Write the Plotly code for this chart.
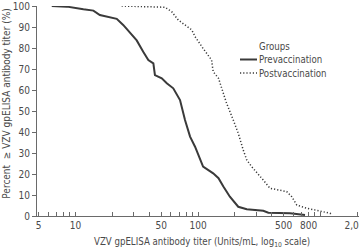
import plotly.graph_objects as go

# Prevaccination (solid)
pre_titer = [6.4, 8.5, 11.6, 14.0, 15.8, 19.2, 21.7, 24.5, 27.9, 31.6, 35.7, 39.3, 43.2, 44.5,
             50.6, 55.6, 62.8, 71.3, 78.3, 86.1, 94.6, 110, 133, 147, 161, 182, 213, 250,
             341, 375, 564, 703, 747]
pre_pct = [100, 99.7, 98.4, 97.8, 95.7, 94.6, 93.9, 91.0, 87.0, 83.6, 78.2, 74.3, 72.7, 67.1,
           65.6, 63.2, 60.8, 55.2, 45.7, 37.8, 33.0, 23.5, 20.3, 18.0, 14.0, 9.2, 4.4, 3.2,
           2.5, 1.6, 1.3, 0.8, 0.5]

# Postvaccination (dotted)
post_titer = [23.8, 43.2, 53.8, 61, 69, 89, 94.6, 110, 129, 133, 147, 161, 171, 194, 213, 234,
              250, 274, 311, 341, 387, 468, 530, 582, 640, 771, 990, 1197, 1240]
post_pct = [100, 99.7, 99.4, 97.3, 93.3, 88.6, 85.4, 79.8, 74.3, 68.7, 65.6, 58.4, 53.7, 45.7,
            39.4, 31.4, 26.7, 23.5, 19.5, 17.1, 13.2, 12.4, 11.6, 9.2, 5.2, 3.7, 2.5, 1.3, 0.2]

x_tickvals = [5, 6, 7, 8, 9, 10, 20, 30, 40, 50, 60, 70, 80, 90, 100, 200, 300, 400, 500,
              600, 700, 800, 900, 1000, 2000]
x_labels = {5: "5", 10: "10", 50: "50", 100: "100", 500: "500", 800: "800", 2000: "2,000"}
y_tickvals = [0, 10, 20, 30, 40, 50, 60, 70, 80, 90, 100]

FONT = "DejaVu Sans Condensed, Liberation Sans Narrow, sans-serif"
TXT = "#4a4a4a"
AX = "#6a6a6a"
FS = 9.6
DOT = "1.2px,2px"

fig = go.Figure()
fig.add_trace(go.Scatter(x=pre_titer, y=pre_pct, mode="lines",
                         line=dict(color="#3a3a3a", width=2), showlegend=False))
fig.add_trace(go.Scatter(x=post_titer, y=post_pct, mode="lines",
                         line=dict(color="#3a3a3a", width=1.5, dash=DOT), showlegend=False))

fig.update_layout(
    width=359, height=250,
    margin=dict(l=37, r=0, t=6, b=34),
    paper_bgcolor="white", plot_bgcolor="white",
    font=dict(family=FONT, size=FS, color=TXT),
    xaxis=dict(type="log", range=[0.6857, 3.314], tickvals=x_tickvals,
               ticktext=[x_labels.get(v, "") for v in x_tickvals],
               ticks="inside", ticklen=4, tickcolor=AX, showline=True, linecolor=AX,
               linewidth=1, showgrid=False, zeroline=False, automargin=False,
               ticklabeloverflow="allow",
               tickfont=dict(size=10, color=TXT)),
    yaxis=dict(range=[0, 100], tickvals=y_tickvals, ticks="outside", ticklen=4,
               tickcolor=AX, showline=True, linecolor=AX, linewidth=1, showgrid=False,
               zeroline=False, automargin=False, tickfont=dict(size=10, color=TXT)),
)

# axis titles
fig.add_annotation(text="VZV gpELISA antibody titer (Units/mL, log<sub>10</sub> scale)",
                   xref="paper", yref="paper", x=0.512, y=-0.128, xanchor="center",
                   yanchor="middle", showarrow=False, font=dict(size=FS, color=TXT))
fig.add_annotation(text="Percent  \u2265 VZV gpELISA antibody titer (%)",
                   xref="paper", yref="paper", x=-0.093, y=0.535, xanchor="center",
                   yanchor="middle", textangle=-90, showarrow=False,
                   font=dict(size=10, color=TXT))

# legend
def px(xp):
    return (xp - 37) / 322.0

def py(yp):
    return (216 - yp) / 210.0

fig.add_annotation(text="Groups", xref="paper", yref="paper", x=px(257), y=py(46),
                   xanchor="left", yanchor="middle", showarrow=False,
                   font=dict(size=FS, color=TXT))
fig.add_annotation(text="Prevaccination", xref="paper", yref="paper", x=px(257), y=py(59.5),
                   xanchor="left", yanchor="middle", showarrow=False,
                   font=dict(size=FS, color=TXT))
fig.add_annotation(text="Postvaccination", xref="paper", yref="paper", x=px(257), y=py(73),
                   xanchor="left", yanchor="middle", showarrow=False,
                   font=dict(size=FS, color=TXT))
fig.add_shape(type="line", xref="paper", yref="paper", x0=px(240), x1=px(257),
              y0=py(59.5), y1=py(59.5), line=dict(color="#3a3a3a", width=2))
fig.add_shape(type="line", xref="paper", yref="paper", x0=px(240), x1=px(257),
              y0=py(73), y1=py(73), line=dict(color="#3a3a3a", width=1.5, dash=DOT))

fig.write_html("out.html")
